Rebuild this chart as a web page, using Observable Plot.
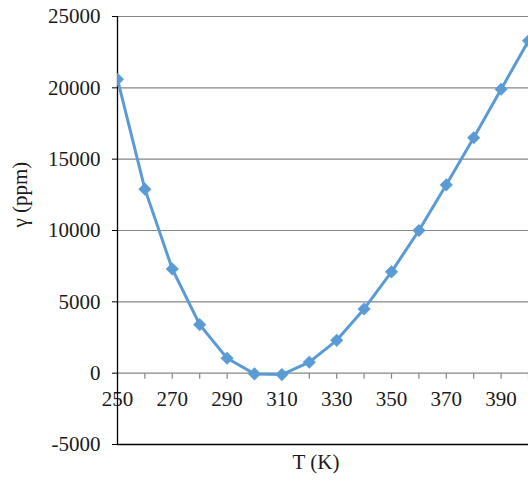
<!DOCTYPE html>
<html>
<head>
<meta charset="utf-8">
<script src="https://cdn.jsdelivr.net/npm/d3@7"></script>
<script src="https://cdn.jsdelivr.net/npm/@observablehq/plot@0.6"></script>
<style>
  html, body { margin: 0; padding: 0; background: #fff; }
  svg { display: block; }
</style>
</head>
<body>
<div id="chart"></div>
<script>
const temps = [250, 260, 270, 280, 290, 300, 310, 320, 330, 340, 350, 360, 370, 380, 390, 400];
const gamma = [20600, 12900, 7300, 3400, 1050, -50, -100, 770, 2300, 4500, 7100, 10000, 13200, 16500, 19900, 23300];
const xTicksMinor = [250, 260, 270, 280, 290, 300, 310, 320, 330, 340, 350, 360, 370, 380, 390, 400];
const xTickLabels = [250, 270, 290, 310, 330, 350, 370, 390];
const yTicks = [-5000, 0, 5000, 10000, 15000, 20000, 25000];
const xLabel = "T (K)";
const yLabel = "γ (ppm)";

const data = temps.map((t, i) => ({t, g: gamma[i]}));

const W = 528, H = 484, mTop = 16, mBottom = 40, mLeft = 117, mRight = 0;
const serif = "Liberation Serif";
const fs = 21;
const blue = "#5b9bd5";
const grid = "#868686";
const ink = "#1a1a1a";

// short downward tick glyph
const tickDown = {draw(ctx) { ctx.moveTo(0, 0); ctx.lineTo(0, 5.5); }};
// square diamond marker (Excel style)
const rhombus = {draw(ctx) { const h = 6.3; ctx.moveTo(0, -h); ctx.lineTo(h, 0); ctx.lineTo(0, h); ctx.lineTo(-h, 0); ctx.closePath(); }};

const plot = Plot.plot({
  width: W,
  height: H,
  marginTop: mTop,
  marginBottom: mBottom,
  marginLeft: mLeft,
  marginRight: mRight,
  style: {fontSize: fs + "px", background: "#fff", color: ink},
  x: {domain: [250, 400], axis: null},
  y: {domain: [-5000, 25000], axis: null},
  marks: [
    Plot.gridY(yTicks, {stroke: grid, strokeOpacity: 1, strokeWidth: 1.2}),
    Plot.axisY({ticks: yTicks, tickSize: 5, tickPadding: 12, fontSize: fs, label: null, stroke: "#000", tickFormat: d => String(d)}),
    Plot.dot(xTicksMinor, {x: d => d, y: () => 0, symbol: tickDown, stroke: grid, strokeWidth: 1.2, r: 3}),
    Plot.text(xTickLabels, {x: d => d, y: () => 0, dy: 26, fontSize: fs, fill: ink, text: d => String(d)}),
    Plot.ruleX([250], {stroke: "#000", strokeWidth: 1.3}),
    Plot.ruleY([-5000], {stroke: "#000", strokeWidth: 1.3}),
    Plot.line(data, {x: "t", y: "g", stroke: blue, strokeWidth: 3, clip: true}),
    Plot.dot(data, {x: "t", y: "g", symbol: rhombus, r: 6, fill: blue, stroke: blue, strokeWidth: 0.5, clip: true}),
    Plot.text([xLabel], {frameAnchor: "bottom", dx: -7, dy: 24, fontSize: fs, fill: ink}),
    Plot.text([yLabel], {frameAnchor: "left", rotate: -90, dx: -97, dy: -3, fontSize: fs, fill: ink})
  ]
});
plot.setAttribute("font-family", serif);
plot.style.fontFamily = serif;
d3.select(plot).selectAll("g, text").attr("font-family", serif).style("font-family", serif);
document.getElementById("chart").appendChild(plot);
</script>
</body>
</html>
